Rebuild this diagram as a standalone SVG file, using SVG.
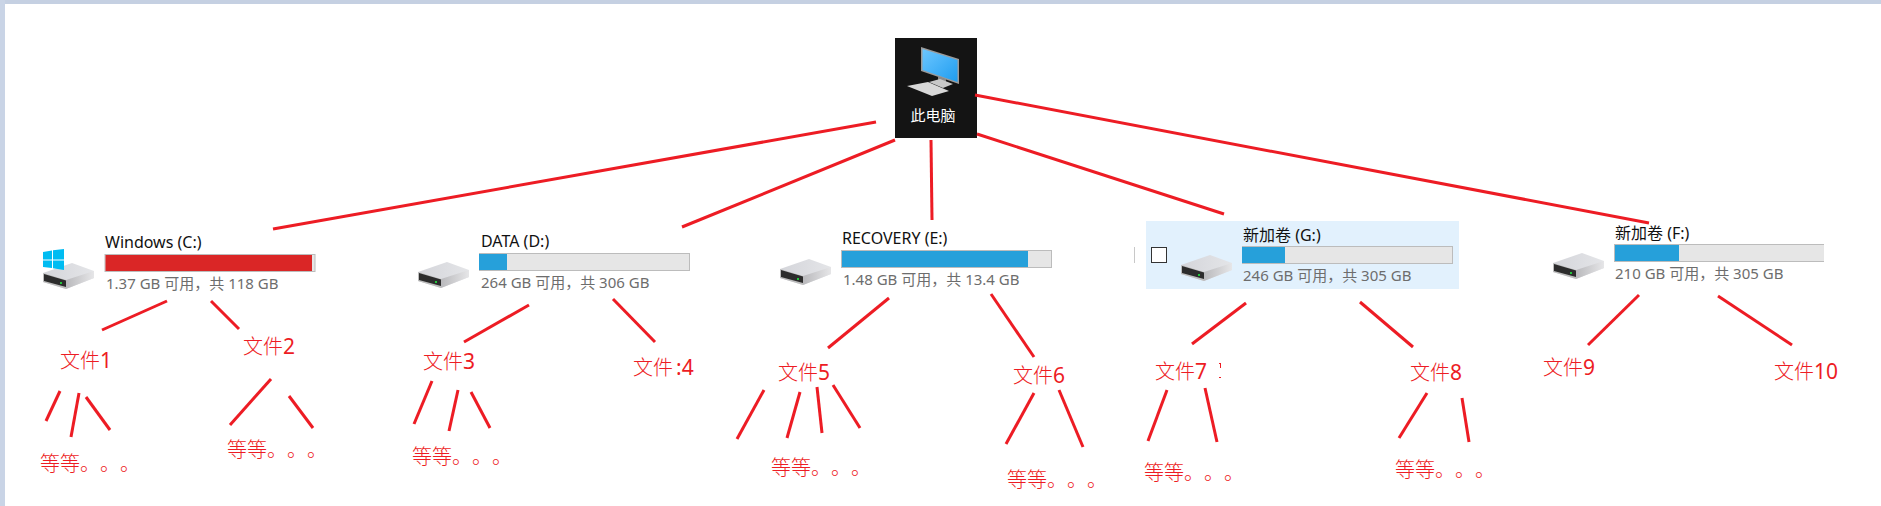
<svg xmlns="http://www.w3.org/2000/svg" width="1881" height="506" viewBox="0 0 1881 506">
<style>
.t{font-family:"Noto Sans","Noto Sans CJK SC",sans-serif;font-size:16px;fill:#111}
.s{font-family:"Noto Sans","Noto Sans CJK SC",sans-serif;font-size:15px;fill:#6d6d6d}
.r{font-family:"Noto Sans CJK SC","Noto Sans",sans-serif;font-size:20px;font-weight:300;fill:#ed1c24}
.n{font-family:"Noto Sans","Liberation Sans",sans-serif;font-size:21px;font-weight:400}
.track{fill:#e6e6e6;stroke:#bcbcbc;stroke-width:1}
.blue{fill:#26a0da}
#conn line{stroke:#ed1c24;stroke-width:3;stroke-linecap:butt;fill:none}
</style>
<defs>
<linearGradient id="side" x1="0" y1="0" x2="1" y2="0"><stop offset="0" stop-color="#b9b9bc"/><stop offset="1" stop-color="#e6e6e8"/></linearGradient>
<linearGradient id="top" x1="0" y1="0" x2="1" y2="0"><stop offset="0" stop-color="#d4d5da"/><stop offset="1" stop-color="#e4e5e8"/></linearGradient>
<linearGradient id="scr" x1="0" y1="0" x2="1" y2="1"><stop offset="0" stop-color="#6cc6ff"/><stop offset="1" stop-color="#1f9df0"/></linearGradient>
<g id="drive">
<polygon points="0,10 29,0 51,8 51,15 23,26 0,19" fill="url(#top)"/>
<polygon points="23,17 51,8 51,15 23,26" fill="url(#side)"/>
<polygon points="0,10 23,17 23,26 0,19" fill="#bdbdbd"/>
<polygon points="1,11 23,17.500 23,24 1,18" fill="#2c2c2c"/>
<rect x="17" y="19" width="2" height="2" fill="#22c53a"/>
</g>
</defs>
<rect width="1881" height="506" fill="#fff"/>
<rect width="1881" height="4" fill="#c5d0e2"/>
<rect width="5" height="506" fill="#c9d4e6"/>
<g id="root">
<rect x="895" y="38" width="82" height="100" fill="#141414"/>
<polygon points="921,47 959,59 959,84 921,71" fill="#9a9a9a"/>
<polygon points="922.500,49 957.500,60 957.500,82 922.500,70" fill="url(#scr)"/>
<polygon points="938,76 946,79 946,83 938,81" fill="#8a8a8a"/>
<polygon points="929,82 940,79 953,84 943,88" fill="#c8c8c8"/>
<polygon points="907,86 928,82 949,91 932,96" fill="#d8d8d8"/>
<text x="933" y="121" text-anchor="middle" style="font-family:'Noto Sans CJK SC',sans-serif;font-size:15px;fill:#fff">此电脑</text>
</g>
<g id="drive-c">
<use href="#drive" x="43" y="263"/>
<polygon points="43,252 52,250.500 52,259.500 43,259.500" fill="#00bcf2"/>
<polygon points="53,250.300 64,249 64,259.500 53,259.500" fill="#00bcf2"/>
<polygon points="43,260.500 52,260.500 52,268 43,267" fill="#00bcf2"/>
<polygon points="53,260.500 64,260.500 64,270 53,268.200" fill="#00bcf2"/>
<text class="t" x="105" y="248">Windows (C:)</text>
<rect class="track" x="105" y="254.500" width="210" height="17"/>
<rect x="105.500" y="255" width="206.500" height="16" fill="#da2626"/>
<text class="s" x="106" y="288.500">1.37 GB 可用，共 118 GB</text>
</g>
<g id="drive-d">
<use href="#drive" x="418" y="262"/>
<text class="t" x="481" y="247">DATA (D:)</text>
<rect class="track" x="479.500" y="253.500" width="210" height="17"/>
<rect class="blue" x="479" y="254" width="28" height="16"/>
<text class="s" x="481" y="288">264 GB 可用，共 306 GB</text>
</g>
<g id="drive-e">
<use href="#drive" x="780" y="259"/>
<text class="t" x="842" y="244">RECOVERY (E:)</text>
<rect class="track" x="841.500" y="250.500" width="210" height="17"/>
<rect class="blue" x="842" y="251" width="186" height="16"/>
<text class="s" x="843" y="285">1.48 GB 可用，共 13.4 GB</text>
</g>
<g id="drive-g">
<rect x="1146" y="221" width="313" height="68" fill="#e2f1fd"/>
<rect x="1134" y="247" width="1" height="16" fill="#c8c8c8"/>
<rect x="1151.500" y="247.500" width="15" height="15" fill="#fff" stroke="#333" stroke-width="1"/>
<use href="#drive" x="1181" y="255"/>
<text class="t" x="1243" y="241">新加卷 (G:)</text>
<rect class="track" x="1242.500" y="246.500" width="210" height="17"/>
<rect class="blue" x="1242" y="247" width="43" height="16"/>
<text class="s" x="1243" y="281">246 GB 可用，共 305 GB</text>
</g>
<g id="drive-f">
<use href="#drive" x="1553" y="253"/>
<text class="t" x="1615" y="239">新加卷 (F:)</text>
<rect x="1614" y="244" width="210" height="18" fill="#bcbcbc"/>
<rect x="1615" y="245" width="209" height="16" fill="#e6e6e6"/>
<rect class="blue" x="1615" y="245" width="64" height="16"/>
<text class="s" x="1615" y="279">210 GB 可用，共 305 GB</text>
</g>
<g id="conn">
<line x1="273" y1="229" x2="876" y2="122"/>
<line x1="682" y1="227" x2="895" y2="140"/>
<line x1="931" y1="140" x2="932" y2="220"/>
<line x1="977" y1="134" x2="1224" y2="214"/>
<line x1="975" y1="95" x2="1649" y2="223"/>
<line x1="167" y1="301" x2="102" y2="330"/>
<line x1="211" y1="301" x2="239" y2="329"/>
<line x1="529" y1="305" x2="464" y2="342"/>
<line x1="613" y1="299" x2="655" y2="342"/>
<line x1="889" y1="298" x2="828" y2="348"/>
<line x1="991" y1="294" x2="1034" y2="357"/>
<line x1="1246" y1="303" x2="1192" y2="344"/>
<line x1="1360" y1="302" x2="1413" y2="347"/>
<line x1="1639" y1="295" x2="1588" y2="345"/>
<line x1="1718" y1="296" x2="1792" y2="345"/>
<line x1="60" y1="391" x2="46" y2="421"/>
<line x1="79" y1="393" x2="71" y2="437"/>
<line x1="86" y1="397" x2="110" y2="430"/>
<line x1="271" y1="379" x2="230" y2="425"/>
<line x1="289" y1="396" x2="313" y2="428"/>
<line x1="432" y1="381" x2="414" y2="424"/>
<line x1="458" y1="390" x2="449" y2="431"/>
<line x1="471" y1="392" x2="490" y2="428"/>
<line x1="764" y1="390" x2="737" y2="439"/>
<line x1="800" y1="392" x2="787" y2="438"/>
<line x1="817" y1="387" x2="822" y2="433"/>
<line x1="833" y1="385" x2="860" y2="428"/>
<line x1="1034" y1="393" x2="1006" y2="444"/>
<line x1="1059" y1="390" x2="1083" y2="447"/>
<line x1="1167" y1="390" x2="1148" y2="441"/>
<line x1="1205" y1="388" x2="1217" y2="442"/>
<line x1="1427" y1="393" x2="1399" y2="438"/>
<line x1="1462" y1="398" x2="1469" y2="442"/>
</g>
<g id="labels">
<text class="r" x="60" y="368">文件<tspan class="n">1</tspan></text>
<text class="r" x="243" y="354">文件<tspan class="n">2</tspan></text>
<text class="r" x="423" y="369">文件<tspan class="n">3</tspan></text>
<text class="r" x="633" y="375">文件<tspan class="n" dx="3">:4</tspan></text>
<text class="r" x="778" y="380">文件<tspan class="n">5</tspan></text>
<text class="r" x="1013" y="383">文件<tspan class="n">6</tspan></text>
<text class="r" x="1155" y="379">文件<tspan class="n">7</tspan></text>
<text class="r" x="1410" y="380">文件<tspan class="n">8</tspan></text>
<text class="r" x="1543" y="375">文件<tspan class="n">9</tspan></text>
<text class="r" x="1774" y="379">文件<tspan class="n">10</tspan></text>
<text class="r" x="40 60 80 100 120" y="471">等等。。。</text>
<text class="r" x="227 247 267 287 307" y="457">等等。。。</text>
<text class="r" x="412 432 452 472 492" y="464">等等。。。</text>
<text class="r" x="771 791 811 831 851" y="475">等等。。。</text>
<text class="r" x="1007 1027 1047 1067 1087" y="487">等等。。。</text>
<text class="r" x="1144 1164 1184 1204 1224" y="480">等等。。。</text>
<text class="r" x="1395 1415 1435 1455 1475" y="477">等等。。。</text>
</g>
<g id="marks" fill="#ed1c24">
<rect x="1219" y="363" width="2" height="1"/>
<rect x="1219" y="377" width="2" height="1"/>
<rect x="1220" y="364" width="1" height="4"/>
</g>
</svg>
